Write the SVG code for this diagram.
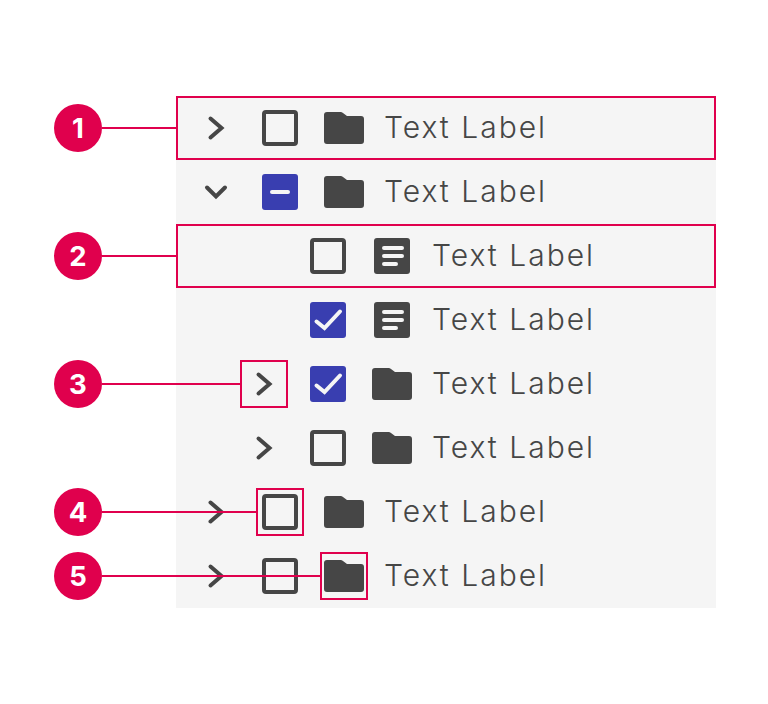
<svg xmlns="http://www.w3.org/2000/svg" width="768" height="704" viewBox="0 0 768 704">
<style>
.lbl{font-family:"Inter","Noto Sans","Liberation Sans",sans-serif;font-weight:300;font-size:30px;letter-spacing:2px;fill:#464646}
.num{font-family:"Inter","Liberation Sans",sans-serif;font-weight:700;font-size:27.500px;fill:#fff;text-anchor:middle}
.chev{fill:none;stroke:#464646;stroke-width:4;stroke-linecap:round;stroke-linejoin:miter}
.box{fill:none;stroke:#464646;stroke-width:4}
.blue{fill:#393eb0}
.ink{fill:#464646}
.mark{fill:none;stroke:#f5f5f5;stroke-width:4;stroke-linecap:round}
.hl{fill:none;stroke:#e0004d;stroke-width:2}
.dot{fill:#e0004d}
</style>
<defs>
<path id="folder" class="ink" d="M3 0H16.500Q18 0 19 1L23 4H37Q40 4 40 7V29Q40 32 37 32H3Q0 32 0 29V3Q0 0 3 0Z"/>
<g id="doc"><rect class="ink" width="36" height="36" rx="3"/><path class="mark" d="M10 10H28M10 18H28M10 26H22"/></g>
<path id="right" class="chev" d="M-5.500 -9.500 5.500 0-5.500 9.500"/>
<rect id="check" class="box" x="2" y="2" width="32" height="32" rx="2"/>
<rect id="filled" class="blue" width="36" height="36" rx="3"/>
<path id="tick" class="mark" d="M6.500 25.500 14.500 32 30 15.500" transform="translate(0,-6)"/>
</defs>
<rect id="panel" x="176" y="96" width="540" height="512" fill="#f5f5f5"/>
<g id="row1"><use href="#right" x="216" y="128"/><use href="#check" x="262" y="110"/><use href="#folder" x="324" y="112"/><text class="lbl" x="384" y="138">Text Label</text></g>
<g id="row2"><path class="chev" d="M207 187.500 216 196.500 225 187.500"/><use href="#filled" x="262" y="174"/><path class="mark" d="M272 192H288"/><use href="#folder" x="324" y="176"/><text class="lbl" x="384" y="202">Text Label</text></g>
<g id="row3"><use href="#check" x="310" y="238"/><use href="#doc" x="374" y="238"/><text class="lbl" x="432" y="266">Text Label</text></g>
<g id="row4"><use href="#filled" x="310" y="302"/><use href="#tick" x="310" y="302"/><use href="#doc" x="374" y="302"/><text class="lbl" x="432" y="330">Text Label</text></g>
<g id="row5"><use href="#right" x="264" y="384"/><use href="#filled" x="310" y="366"/><use href="#tick" x="310" y="366"/><use href="#folder" x="372" y="368"/><text class="lbl" x="432" y="394">Text Label</text></g>
<g id="row6"><use href="#right" x="264" y="448"/><use href="#check" x="310" y="430"/><use href="#folder" x="372" y="432"/><text class="lbl" x="432" y="458">Text Label</text></g>
<g id="row7"><use href="#right" x="216" y="512"/><use href="#check" x="262" y="494"/><use href="#folder" x="324" y="496"/><text class="lbl" x="384" y="522">Text Label</text></g>
<g id="row8"><use href="#right" x="216" y="576"/><use href="#check" x="262" y="558"/><use href="#folder" x="324" y="560"/><text class="lbl" x="384" y="586">Text Label</text></g>
<g id="connectors" stroke="#e0004d" stroke-width="2" fill="none">
<path d="M102 128H177"/><path d="M102 256H177"/><path d="M102 384H241"/><path d="M102 512H257"/><path d="M102 576H321"/>
</g>
<g id="callout1"><rect class="hl" x="177" y="97" width="538" height="62"/><circle class="dot" cx="78" cy="128" r="24"/><text class="num" x="78" y="138">1</text></g>
<g id="callout2"><rect class="hl" x="177" y="225" width="538" height="62"/><circle class="dot" cx="78" cy="256" r="24"/><text class="num" x="78" y="266">2</text></g>
<g id="callout3"><rect class="hl" x="241" y="361" width="46" height="46"/><circle class="dot" cx="78" cy="384" r="24"/><text class="num" x="78" y="394">3</text></g>
<g id="callout4"><rect class="hl" x="257" y="489" width="46" height="46"/><circle class="dot" cx="78" cy="512" r="24"/><text class="num" x="78" y="522">4</text></g>
<g id="callout5"><rect class="hl" x="321" y="553" width="46" height="46"/><circle class="dot" cx="78" cy="576" r="24"/><text class="num" x="78" y="586">5</text></g>
</svg>
